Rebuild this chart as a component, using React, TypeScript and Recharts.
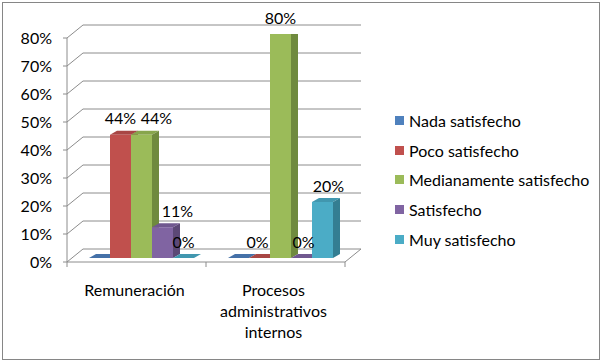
import React from 'react';
import { BarChart, Bar, XAxis, YAxis, CartesianGrid, Legend, LabelList } from 'recharts';

const categories = ['Remuneración', 'Procesos administrativos internos'];
const nadaSatisfecho = [0, 0];
const pocoSatisfecho = [0.44, 0];
const medianamenteSatisfecho = [0.44, 0.8];
const satisfecho = [0.11, 0];
const muySatisfecho = [0, 0.2];
const yTicks = [0, 0.1, 0.2, 0.3, 0.4, 0.5, 0.6, 0.7, 0.8];

const seriesNames = ['Nada satisfecho', 'Poco satisfecho', 'Medianamente satisfecho', 'Satisfecho', 'Muy satisfecho'];
const seriesValues = [nadaSatisfecho, pocoSatisfecho, medianamenteSatisfecho, satisfecho, muySatisfecho];
const colors = [
  { front: '#4F81BD', top: '#4571A8', side: '#3A5F8B' },
  { front: '#C0504D', top: '#A84644', side: '#8E3B39' },
  { front: '#9BBB59', top: '#87A54C', side: '#6F8A3E' },
  { front: '#8064A2', top: '#70588F', side: '#5C4876' },
  { front: '#4BACC6', top: '#4197AF', side: '#347E92' },
];
const keys = ['s0', 's1', 's2', 's3', 's4'];

// horizontal nudges of data labels (style), [series][category]
const labelShift = [
  [0, 0],
  [0, -2],
  [15, 0],
  [15, 2],
  [0, 6],
];

const data = categories.map((c, i) => {
  const row: any = { name: c };
  keys.forEach((k, j) => { row[k] = seriesValues[j][i]; });
  return row;
});

const FONT = 'Lato, "Open Sans", sans-serif';
const FS = 16;
const DX = 7;
const DY = -4;
const GRID = '#8C8C8C';
const BOTTOM = 258;
const LEFT = 72;
const RIGHT = 350;

const makeShape = (c: { front: string; top: string; side: string }) => (props: any) => {
  const { x, y, width, height } = props;
  if (x == null || y == null) return null;
  const h = height || 0;
  return (
    <g>
      <path d={`M${x},${y} L${x + DX},${y + DY} L${x + width + DX},${y + DY} L${x + width},${y} Z`} fill={c.top} />
      {h > 0 && (
        <path d={`M${x + width},${y} L${x + width + DX},${y + DY} L${x + width + DX},${y + h + DY} L${x + width},${y + h} Z`} fill={c.side} />
      )}
      {h > 0 && <rect x={x} y={y} width={width} height={h} fill={c.front} />}
    </g>
  );
};

const makeLabel = (si: number) => (props: any) => {
  const { x, y, width, value, index } = props;
  const shift = (labelShift[si] && labelShift[si][index]) || 0;
  return (
    <text x={x + width / 2 + shift} y={y - 16} dy="0.35em" textAnchor="middle" fontFamily={FONT} fontSize={FS} fill="#000">
      {`${Math.round(value * 100)}%`}
    </text>
  );
};

const gridLine = (props: any) => {
  const { y1, x1, x2, index } = props;
  const y = y1;
  const fx1 = x1 - 5;
  const fx2 = x2 - 5;
  const fy = y + 4;
  const isBottom = Math.abs(y - BOTTOM) < 1;
  const isTop = Math.abs(y - 34) < 1;
  return (
    <g key={`g-${index}-${y}`}>
      <line x1={fx1} y1={fy} x2={x1 + 11} y2={y - 9} stroke={GRID} strokeWidth={1} />
      <line x1={x1 + 11} y1={y - 9} x2={x2 + 11} y2={y - 9} stroke={GRID} strokeWidth={1} />
      <line x1={fx1 - 4} y1={fy} x2={fx1} y2={fy} stroke={GRID} strokeWidth={1} />
      {isTop && <line x1={fx1} y1={fy} x2={fx1} y2={BOTTOM + 4} stroke={GRID} strokeWidth={1} />}
      {isBottom && (
        <g>
          <line x1={fx1} y1={fy} x2={fx2} y2={fy} stroke={GRID} strokeWidth={1} />
          <line x1={fx2} y1={fy} x2={x2 + 11} y2={y - 9} stroke={GRID} strokeWidth={1} />
          <line x1={fx1} y1={fy} x2={fx1} y2={fy + 5} stroke={GRID} strokeWidth={1} />
          <line x1={(fx1 + fx2) / 2} y1={fy} x2={(fx1 + fx2) / 2} y2={fy + 5} stroke={GRID} strokeWidth={1} />
          <line x1={fx2} y1={fy} x2={fx2} y2={fy + 5} stroke={GRID} strokeWidth={1} />
        </g>
      )}
    </g>
  );
};

const YTick = (props: any) => {
  const { y, payload } = props;
  return (
    <text x={52} y={y + 4} dy="0.35em" textAnchor="end" fontFamily={FONT} fontSize={FS} fill="#000">
      {`${Math.round(payload.value * 100)}%`}
    </text>
  );
};

const XTick = (props: any) => {
  const { x, payload } = props;
  const words = String(payload.value).split(' ');
  return (
    <g>
      {words.map((w, i) => (
        <text key={i} x={x - 7} y={290 + i * 21} dy="0.35em" textAnchor="middle" fontFamily={FONT} fontSize={FS} fill="#000">
          {w}
        </text>
      ))}
    </g>
  );
};

const LegendContent = () => (
  <div style={{ fontFamily: FONT, fontSize: FS, color: '#000' }}>
    {seriesNames.map((n, i) => (
      <div key={n} style={{ display: 'flex', alignItems: 'center', height: 29.8, whiteSpace: 'nowrap' }}>
        <span style={{ display: 'inline-block', width: 9, height: 9, background: colors[i].front, marginRight: 5 }} />
        <span>{n}</span>
      </div>
    ))}
  </div>
);

export default function App() {
  return (
    <div style={{ position: 'absolute', left: 0, top: 0, width: 603, height: 363, background: '#fff' }}>
      <div style={{ position: 'absolute', left: 2, top: 2, width: 598, height: 358, border: '1px solid #868686', boxSizing: 'border-box' }} />
      <BarChart
        width={603}
        height={363}
        data={data}
        margin={{ top: 34, right: 603 - RIGHT, bottom: 363 - BOTTOM - 30, left: LEFT - 60 }}
        barCategoryGap={17}
        barGap={0}
        style={{ position: 'absolute', left: 0, top: 0 }}
      >
        <CartesianGrid vertical={false} horizontal={gridLine as any} />
        <XAxis dataKey="name" height={30} axisLine={false} tickLine={false} tick={<XTick />} interval={0} />
        <YAxis width={60} domain={[0, 0.8]} ticks={yTicks} axisLine={false} tickLine={false} tick={<YTick />} allowDataOverflow />
        <Legend
          layout="vertical"
          align="center"
          verticalAlign="middle"
          content={<LegendContent />}
          wrapperStyle={{ left: 395, top: 105.5, width: 205 }}
        />
        {keys.map((k, i) => (
          <Bar key={k} dataKey={k} name={seriesNames[i]} fill={colors[i].front} isAnimationActive={false} shape={makeShape(colors[i])}>
            {i > 0 && <LabelList dataKey={k} content={makeLabel(i)} />}
          </Bar>
        ))}
      </BarChart>
    </div>
  );
}
